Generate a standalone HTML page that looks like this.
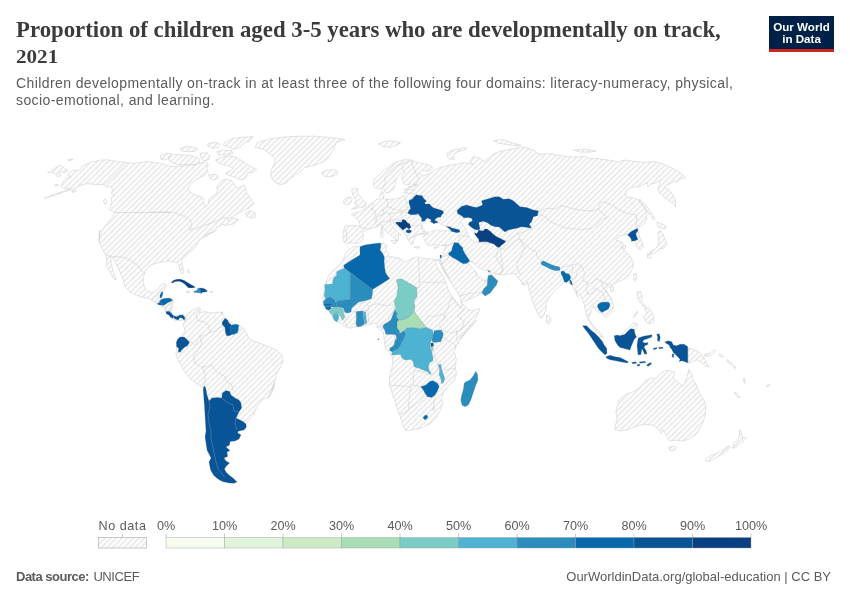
<!DOCTYPE html>
<html><head><meta charset="utf-8">
<style>
html,body{margin:0;padding:0;background:#fff;}
body{width:850px;height:600px;position:relative;overflow:hidden;font-family:"Liberation Sans",sans-serif;}
#title{position:absolute;left:16px;top:16.5px;font-family:"Liberation Serif",serif;font-weight:bold;font-size:22.8px;line-height:26.5px;color:#3b3b3b;white-space:nowrap;}
#t2{font-size:18.5px;display:inline-block;transform:scaleX(1.14);transform-origin:0 50%;}
#sub{position:absolute;left:16px;top:75px;font-size:14px;line-height:17.3px;color:#5b5b5b;white-space:nowrap;letter-spacing:0.4px;}
#logo{position:absolute;left:769px;top:16px;width:65px;height:36px;background:#002147;border-bottom:3px solid #ce261e;box-sizing:border-box;color:#fff;font-weight:bold;font-size:11.6px;line-height:12px;text-align:center;padding-top:4.7px;letter-spacing:0px;}
#src{position:absolute;left:16px;top:568.5px;font-size:13px;color:#5b5b5b;white-space:nowrap;letter-spacing:-0.5px;}
#un{margin-left:1.5px;letter-spacing:-0.4px;}
#url{position:absolute;right:19px;top:568.5px;font-size:13px;color:#5b5b5b;white-space:nowrap;}
svg{position:absolute;left:0;top:0;}
</style></head><body>
<div id="title"><span id="t1">Proportion of children aged 3-5 years who are developmentally on track,</span><br><span id="t2">2021</span></div>
<div id="sub"><span id="s1">Children developmentally on-track in at least three of the following four domains: literacy-numeracy, physical,</span><br><span id="s2">socio-emotional, and learning.</span></div>
<div id="logo">Our World<br>in Data</div>
<svg id="map" width="850" height="600" viewBox="0 0 850 600">
<defs>
<pattern id="hatch" patternUnits="userSpaceOnUse" width="4" height="4" patternTransform="rotate(-45 2 2)"><path d="M-1,2 l6,0" stroke="#e4e4e4" stroke-width="1.4"/></pattern>
</defs>
<!--MAP-->
<g id="mapg">
<path d="M44.2,198.3L55.0,195.0L65.0,191.7L70.8,189.7L76.7,187.5L81.7,185.0L86.7,183.7L92.5,184.2L98.3,184.7L104.2,185.0L106.7,187.5L110.0,186.3L112.5,189.2L111.7,193.3L114.2,195.0L111.3,197.5L111.7,202.5L110.3,206.7L108.3,209.2L111.7,210.8L114.7,212.5L112.5,216.7L108.3,221.7L103.3,228.3L100.0,235.0L99.2,241.7L100.0,230.0L98.7,236.7L99.7,243.3L102.5,250.0L105.8,255.0L106.7,259.2L106.3,265.8L109.2,270.8L111.7,275.8L115.0,280.0L116.3,279.2L114.2,274.2L112.5,269.2L111.7,264.2L110.8,259.2L110.3,256.7L113.3,258.0L115.8,263.3L120.0,271.7L123.3,279.2L125.0,286.7L130.0,291.7L135.8,295.0L142.5,297.5L148.3,298.0L152.5,300.8L156.7,303.3L161.7,305.3L165.8,308.3L167.5,312.5L170.0,315.8L172.5,319.2L176.7,320.8L182.5,320.3L185.0,318.7L185.8,320.8L186.3,318.0L185.0,315.8L183.3,314.7L180.0,314.7L176.7,315.8L173.3,316.7L170.8,313.3L170.3,308.3L171.7,303.3L173.0,299.7L170.8,298.0L165.0,298.3L160.0,300.0L161.7,296.7L162.5,292.5L164.2,289.2L166.7,285.0L165.0,283.3L160.8,285.0L158.3,289.2L153.3,292.5L148.3,291.7L145.0,288.3L143.3,283.3L143.3,278.3L144.7,272.5L148.3,267.5L153.3,264.2L159.2,262.5L165.0,261.7L168.3,260.8L173.3,261.7L177.5,262.5L179.2,265.8L180.0,270.8L181.7,273.7L183.3,272.5L183.0,267.5L181.7,263.3L181.3,260.0L184.2,256.7L188.3,253.3L193.3,249.2L196.7,245.8L198.3,241.7L201.7,238.3L205.8,235.0L211.7,232.5L216.7,230.0L203.8,237.5L208.8,233.8L212.5,230.0L217.5,227.5L222.5,224.5L226.2,225.5L233.8,223.8L238.8,219.5L233.8,218.0L230.0,218.0L235.0,215.0L242.5,211.2L245.0,210.0L250.0,207.5L253.8,203.8L251.2,198.8L246.2,192.5L244.5,185.0L244.7,185.0L240.8,186.7L236.7,188.3L235.0,185.0L231.7,180.8L226.7,179.2L222.5,180.0L219.2,183.3L216.7,187.5L217.5,190.8L215.8,194.2L210.8,196.7L208.7,199.2L208.3,204.2L205.8,205.8L203.0,203.3L204.2,199.2L201.7,197.0L195.8,195.0L190.0,192.5L188.0,188.3L190.0,185.0L195.0,180.8L200.0,177.5L205.0,175.0L208.3,172.5L206.7,168.3L208.3,164.2L205.0,161.7L200.0,163.3L191.7,165.0L183.3,165.8L175.0,166.7L168.3,165.8L163.3,164.2L156.7,162.5L146.7,161.7L140.0,162.5L133.3,163.3L127.5,162.5L120.0,161.7L113.3,160.8L107.5,159.7L100.0,160.3L92.5,161.7L85.8,164.2L81.7,166.7L80.0,170.0L75.0,170.0L70.0,171.7L67.5,175.0L70.8,176.7L65.8,178.3L62.5,182.5L60.8,185.8L63.3,188.3L70.0,188.7Z" fill="url(#hatch)" stroke="#c8c8c8" stroke-width="0.5" stroke-linejoin="round"/>
<path d="M47.5,173.0L53.3,169.2L60.0,165.0L62.5,166.7L65.8,169.2L68.0,170.8L65.8,172.5L61.7,171.7L59.2,173.3L60.8,175.8L57.5,176.7L55.0,173.3L51.7,172.5Z" fill="url(#hatch)" stroke="#c8c8c8" stroke-width="0.5" stroke-linejoin="round"/>
<path d="M67.5,159.7L72.5,159.0L73.0,160.0L68.3,160.7Z" fill="url(#hatch)" stroke="#c8c8c8" stroke-width="0.5" stroke-linejoin="round"/>
<path d="M55.0,184.7L58.3,184.7L58.3,185.7L55.0,185.7Z" fill="url(#hatch)" stroke="#c8c8c8" stroke-width="0.5" stroke-linejoin="round"/>
<path d="M71.7,190.8L75.8,189.7L76.3,191.3L72.5,192.5Z" fill="url(#hatch)" stroke="#c8c8c8" stroke-width="0.5" stroke-linejoin="round"/>
<path d="M103.3,200.0L105.8,199.2L107.0,202.5L104.7,204.2Z" fill="url(#hatch)" stroke="#c8c8c8" stroke-width="0.5" stroke-linejoin="round"/>
<path d="M245.0,213.3L250.0,210.8L255.0,212.5L255.8,216.7L251.7,218.3L247.5,216.7Z" fill="url(#hatch)" stroke="#c8c8c8" stroke-width="0.5" stroke-linejoin="round"/>
<path d="M215.8,160.0L221.7,157.5L228.3,155.8L235.0,156.7L240.8,160.0L246.7,164.2L253.3,167.5L256.7,170.0L252.5,172.5L247.5,172.5L246.7,176.7L243.3,180.0L238.3,179.2L233.3,176.7L228.3,175.0L225.0,173.3L230.0,170.8L233.3,168.3L228.3,165.8L223.3,165.0L218.3,163.3Z" fill="url(#hatch)" stroke="#c8c8c8" stroke-width="0.5" stroke-linejoin="round"/>
<path d="M168.3,156.7L175.0,154.2L183.3,155.0L191.7,155.8L198.3,158.3L200.0,162.5L195.0,165.0L188.3,164.2L180.0,165.0L173.3,163.3L169.2,160.8Z" fill="url(#hatch)" stroke="#c8c8c8" stroke-width="0.5" stroke-linejoin="round"/>
<path d="M160.0,155.8L165.8,153.3L171.7,153.7L170.0,157.5L165.0,160.0L160.8,159.2Z" fill="url(#hatch)" stroke="#c8c8c8" stroke-width="0.5" stroke-linejoin="round"/>
<path d="M225.0,141.7L233.3,138.3L243.3,137.0L253.3,136.7L250.0,140.8L243.3,143.3L240.0,147.5L233.3,149.2L228.3,146.7L223.3,145.0Z" fill="url(#hatch)" stroke="#c8c8c8" stroke-width="0.5" stroke-linejoin="round"/>
<path d="M216.7,151.7L223.3,150.0L231.7,150.8L233.3,153.3L226.7,155.0L218.3,154.7Z" fill="url(#hatch)" stroke="#c8c8c8" stroke-width="0.5" stroke-linejoin="round"/>
<path d="M180.0,148.3L186.7,146.3L193.3,147.0L198.3,149.2L195.0,151.7L188.3,151.3L182.5,151.7Z" fill="url(#hatch)" stroke="#c8c8c8" stroke-width="0.5" stroke-linejoin="round"/>
<path d="M208.3,143.3L215.0,142.5L220.0,144.2L218.3,147.5L211.7,148.3L207.5,145.8Z" fill="url(#hatch)" stroke="#c8c8c8" stroke-width="0.5" stroke-linejoin="round"/>
<path d="M200.0,153.3L206.7,152.5L210.0,155.8L208.3,160.0L203.3,160.8L200.8,157.5Z" fill="url(#hatch)" stroke="#c8c8c8" stroke-width="0.5" stroke-linejoin="round"/>
<path d="M208.3,175.0L215.0,174.2L218.3,176.7L215.8,180.0L210.8,179.2Z" fill="url(#hatch)" stroke="#c8c8c8" stroke-width="0.5" stroke-linejoin="round"/>
<path d="M257.5,142.5L270.0,138.8L285.0,137.0L300.0,136.2L315.0,136.2L330.0,137.5L345.0,139.5L336.2,142.5L333.8,148.8L330.0,155.0L325.0,161.2L315.0,165.0L305.0,167.5L297.5,173.8L290.0,178.8L285.0,183.8L280.0,184.5L275.0,182.5L271.2,177.5L270.5,171.2L273.8,165.0L275.0,158.8L270.0,153.8L262.5,148.8L255.0,147.5Z" fill="url(#hatch)" stroke="#c8c8c8" stroke-width="0.5" stroke-linejoin="round"/>
<path d="M321.2,172.5L326.2,170.5L333.8,169.5L338.0,172.0L336.2,175.0L330.0,177.0L323.8,176.2Z" fill="url(#hatch)" stroke="#c8c8c8" stroke-width="0.5" stroke-linejoin="round"/>
<path d="M185.0,319.2L187.5,314.2L192.5,310.0L198.3,307.5L200.8,309.2L199.2,312.5L205.0,311.7L211.7,313.0L217.5,312.0L222.5,312.5L223.3,315.8L225.8,318.3L230.0,321.7L235.0,324.2L239.2,325.0L243.3,328.3L246.7,333.3L248.3,337.5L253.3,340.8L260.0,343.3L268.3,346.7L276.7,350.0L281.7,355.0L283.3,360.8L280.8,366.7L276.7,373.3L275.0,380.0L274.2,386.7L271.7,393.3L268.3,398.3L274.0,383.0L272.0,391.0L268.0,397.0L262.0,400.0L258.0,405.0L255.0,411.0L253.0,416.0L249.0,420.0L246.0,424.0L230.0,435.0L210.0,415.0L203.7,387.5L198.3,385.0L191.7,380.0L186.7,375.0L183.3,369.2L180.0,363.3L176.7,357.5L175.8,353.3L177.5,352.5L176.3,348.3L176.7,343.3L180.8,337.5L185.0,330.8L183.3,325.0Z" fill="url(#hatch)" stroke="#c8c8c8" stroke-width="0.5" stroke-linejoin="round"/>
<path d="M324.2,288.5L327.4,277.9L332.7,270.5L339.1,265.2L343.3,259.9L345.4,253.6L350.7,248.3L354.9,246.2L359.2,246.8L368.7,244.5L381.4,243.6L383.5,243.0L386.7,245.1L385.7,250.4L388.8,253.6L387.8,256.8L393.1,256.8L400.5,258.9L405.8,262.1L411.1,258.9L417.4,256.8L423.8,258.5L430.1,258.9L437.5,259.9L440.7,258.9L441.8,264.2L444.9,270.5L449.2,277.9L452.4,286.4L455.5,292.8L457.7,298.1L460.8,302.3L465.1,306.5L468.2,309.7L472.5,310.8L479.9,308.7L478.8,311.8L475.7,318.2L470.4,325.6L464.0,333.0L459.8,339.4L476.5,320.0L472.2,325.3L465.9,332.7L460.6,339.1L456.4,345.4L454.2,351.8L456.4,359.2L455.3,365.5L456.4,374.0L454.2,380.4L448.9,385.7L443.7,392.0L441.5,398.4L442.6,403.7L440.5,410.0L436.2,417.4L429.9,423.8L421.4,428.0L411.9,430.1L405.5,430.5L403.4,426.9L401.3,419.5L398.1,411.1L394.9,401.5L391.8,392.0L389.2,383.5L389.6,376.1L391.8,368.7L392.8,362.4L391.8,356.0L389.6,351.8L385.4,348.6L384.4,341.2L383.3,332.7L375.9,326.4L385.7,328.8L383.5,324.5L381.4,326.7L375.1,323.5L368.7,324.5L362.4,326.2L356.0,326.7L349.6,328.3L344.4,326.7L341.2,323.5L336.9,321.4L332.7,318.2L330.6,313.9L327.4,309.7L324.2,306.5L322.5,301.2L323.2,297.0Z" fill="url(#hatch)" stroke="#c8c8c8" stroke-width="0.5" stroke-linejoin="round"/>
<path d="M347.4,243.6L343.8,241.8L342.8,235.4L343.8,229.9L344.7,226.2L352.0,225.3L360.3,226.2L358.4,220.7L354.8,217.0L351.1,214.3L357.5,212.4L362.1,210.6L365.8,207.9L369.4,205.1L373.1,202.4L375.8,199.6L379.5,198.7L380.4,194.1L382.3,191.3L384.1,195.0L383.2,198.7L388.7,199.6L395.1,198.7L399.7,197.8L404.3,195.9L406.1,193.2L405.2,189.5L407.9,187.7L410.7,186.8L414.4,185.8L417.1,184.9L410.7,184.0L406.1,184.9L403.4,183.1L401.9,178.5L402.4,175.0L405.0,172.5L403.4,170.8L400.8,173.7L398.4,175.8L396.0,179.4L395.1,184.9L393.3,189.5L389.6,192.3L385.9,193.2L384.1,189.5L380.4,188.6L374.9,187.7L373.1,184.0L374.0,179.4L378.6,174.8L384.1,170.3L390.5,165.7L396.0,162.0L403.4,159.8L410.7,159.8L416.2,162.0L423.5,163.8L430.9,165.7L432.7,168.4L429.0,171.2L421.7,170.3L418.9,173.0L423.5,175.8L429.0,173.9L434.5,170.3L440.0,167.5L447.4,165.7L458.4,163.8L465.7,162.9L473.0,163.8L470.0,161.8L473.2,156.5L478.5,157.5L484.8,161.8L491.2,155.4L497.5,152.2L506.0,150.1L514.5,148.6L520.8,146.9L527.2,148.0L533.5,150.1L537.8,153.3L542.0,154.4L550.5,153.7L558.9,155.4L567.4,156.5L575.9,157.1L585.4,156.5L588.6,158.6L597.1,158.6L605.5,159.6L618.2,161.8L624.0,160.0L636.0,161.6L646.0,162.4L654.0,161.6L660.0,163.0L668.0,166.0L676.0,170.0L682.0,174.0L685.6,178.0L680.0,179.0L677.0,182.0L674.0,181.0L670.0,184.0L666.0,185.0L664.0,187.0L669.0,190.0L673.0,195.0L675.6,200.0L675.6,207.0L673.0,204.0L668.0,200.0L663.0,196.0L659.0,192.0L658.0,188.0L660.0,185.0L659.0,180.0L656.0,183.0L651.0,184.0L648.0,187.0L647.0,183.0L643.0,185.0L638.0,187.0L632.0,187.0L627.0,190.0L625.0,195.0L628.0,197.0L633.0,198.0L638.0,200.0L642.0,204.0L645.0,209.0L647.0,215.0L646.4,220.0L644.0,224.0L639.0,227.0L637.4,228.2L639.0,234.0L640.0,238.0L642.4,243.0L643.0,247.0L641.0,249.6L638.0,249.0L636.0,245.0L635.0,241.0L633.0,239.0L630.0,238.0L628.0,234.0L624.0,235.0L620.0,236.0L617.0,238.0L615.6,240.0L619.0,241.0L622.0,242.0L623.6,244.0L621.0,246.0L626.0,245.4L624.4,249.0L621.4,246.6L625.7,251.9L629.9,256.2L633.1,261.5L633.1,266.8L630.9,272.1L627.8,276.3L623.5,279.5L617.2,282.0L611.9,284.8L609.8,287.9L607.6,285.4L605.5,289.0L607.6,293.2L610.8,298.5L613.4,304.9L612.9,310.2L609.8,314.4L605.5,317.6L603.4,314.4L599.2,312.3L594.9,309.1L593.5,305.9L591.8,309.1L589.6,315.5L588.6,318.7L591.8,323.9L596.0,328.2L600.2,332.4L603.4,337.7L601.3,337.1L597.1,332.0L592.8,326.5L589.2,321.8L587.1,316.5L585.4,310.2L584.4,304.9L582.2,298.5L579.1,294.3L575.9,290.1L578.2,298.1L576.1,293.8L574.0,288.5L571.5,285.4L567.7,282.2L565.5,279.6L563.4,283.2L559.2,286.4L553.9,291.7L548.6,298.1L546.5,303.4L546.1,308.7L544.4,315.0L541.2,318.2L538.0,313.9L534.8,307.6L532.7,301.2L530.6,294.9L528.5,287.5L527.4,282.2L525.3,285.4L521.1,284.3L523.2,283.2L520.0,280.1L516.8,276.9L514.7,273.3L509.4,274.1L502.0,274.8L495.7,273.7L491.4,272.6L488.2,270.5L484.0,272.6L479.8,270.5L475.5,266.3L472.4,262.1L469.8,261.0L471.3,263.1L473.4,267.4L475.5,272.6L477.0,275.8L478.3,272.6L479.8,275.8L482.9,276.9L486.1,274.8L488.9,271.6L491.4,274.8L494.6,277.9L497.8,281.1L496.1,285.4L493.5,288.5L490.4,292.8L485.1,295.9L481.9,293.2L474.5,297.0L467.1,300.2L461.8,302.3L457.5,297.0L454.4,290.7L451.2,284.3L446.9,275.8L442.7,267.4L439.5,258.9L440.6,257.9L441.8,256.2L442.9,253.2L444.1,250.3L445.3,247.4L446.5,244.4L443.5,245.0L440.0,245.6L435.3,244.4L431.8,245.6L427.6,245.0L425.9,243.2L424.7,240.3L423.5,237.4L424.1,234.4L422.9,233.2L420.0,233.8L416.5,234.4L414.7,236.2L415.3,238.5L412.9,240.3L413.5,243.2L411.8,245.0L410.0,242.6L408.2,239.7L406.5,236.8L405.3,233.8L402.9,231.5L398.8,228.5L395.3,225.0L392.4,222.6L389.4,221.5L390.8,224.4L394.1,227.9L397.6,231.5L401.2,235.0L400.0,234.4L398.2,235.4L398.8,237.9L397.6,240.9L395.9,239.1L392.9,237.4L389.4,234.4L386.5,231.5L383.5,227.9L381.8,224.4L379.4,225.6L375.3,227.4L370.6,228.5L365.9,230.3L362.4,232.6L363.9,237.2L361.2,241.8L355.7,243.6L350.2,242.7Z" fill="url(#hatch)" stroke="#c8c8c8" stroke-width="0.5" stroke-linejoin="round"/>
<path d="M380.6,230.3L382.6,229.9L383.2,234.4L382.4,237.4L380.8,236.8Z" fill="url(#hatch)" stroke="#c8c8c8" stroke-width="0.5" stroke-linejoin="round"/>
<path d="M381.2,226.8L382.4,226.5L382.7,229.5L381.5,229.7Z" fill="url(#hatch)" stroke="#c8c8c8" stroke-width="0.5" stroke-linejoin="round"/>
<path d="M391.2,240.6L394.1,240.3L397.1,240.1L396.7,242.4L394.7,243.8L391.8,242.1Z" fill="url(#hatch)" stroke="#c8c8c8" stroke-width="0.5" stroke-linejoin="round"/>
<path d="M414.1,246.8L417.1,246.5L419.4,247.1L418.8,248.1L414.7,247.9Z" fill="url(#hatch)" stroke="#c8c8c8" stroke-width="0.5" stroke-linejoin="round"/>
<path d="M433.5,247.4L435.9,246.8L437.9,246.4L437.1,247.9L434.7,248.8Z" fill="url(#hatch)" stroke="#c8c8c8" stroke-width="0.5" stroke-linejoin="round"/>
<path d="M378.6,143.7L385.0,141.5L392.4,140.9L400.6,142.8L396.0,145.5L390.5,147.3L383.2,146.4Z" fill="url(#hatch)" stroke="#c8c8c8" stroke-width="0.5" stroke-linejoin="round"/>
<path d="M447.4,152.8L452.9,150.1L462.0,148.3L466.6,147.7L464.8,150.1L458.4,151.4L452.9,154.7L454.7,159.3L450.1,159.3L447.4,156.5Z" fill="url(#hatch)" stroke="#c8c8c8" stroke-width="0.5" stroke-linejoin="round"/>
<path d="M493.3,140.6L501.8,139.5L512.4,142.7L520.8,145.2L515.5,145.9L506.0,144.4L497.5,143.1Z" fill="url(#hatch)" stroke="#c8c8c8" stroke-width="0.5" stroke-linejoin="round"/>
<path d="M573.8,150.1L582.2,149.1L590.7,150.1L596.0,151.2L588.6,152.2L580.1,152.2Z" fill="url(#hatch)" stroke="#c8c8c8" stroke-width="0.5" stroke-linejoin="round"/>
<path d="M639.0,199.0L641.0,200.0L646.0,206.0L651.0,212.0L655.0,219.0L653.6,219.6L649.0,214.0L644.0,207.0L640.0,202.0Z" fill="url(#hatch)" stroke="#c8c8c8" stroke-width="0.5" stroke-linejoin="round"/>
<path d="M657.0,222.0L662.0,224.0L666.0,226.0L665.0,229.0L661.0,228.0L658.0,227.0Z" fill="url(#hatch)" stroke="#c8c8c8" stroke-width="0.5" stroke-linejoin="round"/>
<path d="M660.0,230.0L663.0,234.0L665.0,240.0L667.0,244.0L664.0,248.0L660.0,249.0L656.0,252.0L652.0,254.0L649.0,253.0L651.0,251.0L655.0,249.0L658.0,246.0L659.0,241.0L658.0,236.0L658.4,232.0Z" fill="url(#hatch)" stroke="#c8c8c8" stroke-width="0.5" stroke-linejoin="round"/>
<path d="M647.2,253.6L651.0,255.2L650.4,258.4L647.6,257.6Z" fill="url(#hatch)" stroke="#c8c8c8" stroke-width="0.5" stroke-linejoin="round"/>
<path d="M610.4,287.9L612.9,286.9L614.0,290.1L611.2,291.8Z" fill="url(#hatch)" stroke="#c8c8c8" stroke-width="0.5" stroke-linejoin="round"/>
<path d="M634.1,274.2L636.2,273.1L636.7,278.4L634.5,281.6L633.5,278.4Z" fill="url(#hatch)" stroke="#c8c8c8" stroke-width="0.5" stroke-linejoin="round"/>
<path d="M636.7,292.2L640.5,291.1L642.2,296.4L641.5,301.7L644.7,304.9L646.8,308.1L643.7,307.0L640.1,302.8L637.9,298.5Z" fill="url(#hatch)" stroke="#c8c8c8" stroke-width="0.5" stroke-linejoin="round"/>
<path d="M644.7,309.1L648.9,308.1L653.2,314.4L653.6,321.8L650.0,323.9L645.8,321.8L643.7,316.5L646.8,313.4Z" fill="url(#hatch)" stroke="#c8c8c8" stroke-width="0.5" stroke-linejoin="round"/>
<path d="M633.1,316.5L637.3,311.2L637.9,312.3L634.1,317.6Z" fill="url(#hatch)" stroke="#c8c8c8" stroke-width="0.5" stroke-linejoin="round"/>
<path d="M546.5,315.0L549.7,316.1L551.1,320.3L549.0,324.1L546.5,322.4Z" fill="url(#hatch)" stroke="#c8c8c8" stroke-width="0.5" stroke-linejoin="round"/>
<path d="M614.8,429.5L616.9,418.9L615.9,410.5L619.1,399.9L625.4,394.6L633.9,391.4L641.3,386.1L645.5,380.8L651.9,377.6L656.1,378.7L660.4,373.4L665.7,370.2L672.0,371.3L675.2,372.4L673.1,377.6L678.4,382.9L683.7,386.1L686.8,377.6L688.9,369.2L691.1,372.4L693.2,379.8L696.4,385.1L699.5,393.5L703.8,399.9L705.9,407.3L704.8,416.8L701.7,425.3L696.4,433.8L688.9,439.1L682.6,441.2L676.2,440.1L669.9,441.2L665.7,434.8L662.5,429.5L661.4,433.8L658.2,428.5L652.9,425.3L644.5,424.2L636.0,426.4L627.5,429.5L621.2,431.2Z" fill="url(#hatch)" stroke="#c8c8c8" stroke-width="0.5" stroke-linejoin="round"/>
<path d="M668.8,447.1L673.1,446.1L675.8,447.5L674.1,450.7L669.9,450.7Z" fill="url(#hatch)" stroke="#c8c8c8" stroke-width="0.5" stroke-linejoin="round"/>
<path d="M687.9,348.0L693.2,349.1L699.5,352.2L703.8,357.5L705.9,361.8L709.1,367.1L704.8,365.6L700.6,361.8L696.4,359.6L693.2,361.8L687.9,362.8Z" fill="url(#hatch)" stroke="#c8c8c8" stroke-width="0.5" stroke-linejoin="round"/>
<path d="M703.8,354.4L710.1,353.3L714.4,349.1L715.4,351.2L711.2,355.4L704.8,356.5Z" fill="url(#hatch)" stroke="#c8c8c8" stroke-width="0.5" stroke-linejoin="round"/>
<path d="M719.7,353.7L723.3,356.3L722.2,357.5L719.0,355.0Z" fill="url(#hatch)" stroke="#c8c8c8" stroke-width="0.5" stroke-linejoin="round"/>
<path d="M727.1,359.6L732.4,363.9L731.3,365.2L726.4,360.9Z" fill="url(#hatch)" stroke="#c8c8c8" stroke-width="0.5" stroke-linejoin="round"/>
<path d="M733.4,364.9L736.0,367.7L734.9,368.5L732.8,366.0Z" fill="url(#hatch)" stroke="#c8c8c8" stroke-width="0.5" stroke-linejoin="round"/>
<path d="M743.4,378.7L744.4,378.5L745.3,382.9L744.2,383.2Z" fill="url(#hatch)" stroke="#c8c8c8" stroke-width="0.5" stroke-linejoin="round"/>
<path d="M735.5,392.0L740.2,396.9L738.9,398.2L734.5,393.5Z" fill="url(#hatch)" stroke="#c8c8c8" stroke-width="0.5" stroke-linejoin="round"/>
<path d="M766.2,386.1L769.4,384.4L770.1,385.5L766.9,387.2Z" fill="url(#hatch)" stroke="#c8c8c8" stroke-width="0.5" stroke-linejoin="round"/>
<path d="M739.2,430.0L741.2,431.2L741.8,435.3L742.4,437.6L746.5,437.9L744.1,440.6L740.6,443.5L737.1,446.5L732.9,448.5L732.1,447.1L734.1,445.3L733.5,442.9L736.5,441.2L738.8,438.2L739.4,434.7Z" fill="url(#hatch)" stroke="#c8c8c8" stroke-width="0.5" stroke-linejoin="round"/>
<path d="M728.8,445.9L730.6,447.1L727.6,450.0L722.9,453.5L718.2,456.5L713.5,459.4L708.8,461.8L705.3,460.6L706.5,458.2L711.2,455.3L716.5,453.5L721.8,450.6L725.9,447.6Z" fill="url(#hatch)" stroke="#c8c8c8" stroke-width="0.5" stroke-linejoin="round"/>
<path d="M620.4,336.2L623.5,332.4L627.8,328.2L633.1,322.9L637.3,323.9L636.7,328.2L634.1,329.9L634.1,334.5L627.8,336.7Z" fill="url(#hatch)" stroke="#c8c8c8" stroke-width="0.5" stroke-linejoin="round"/>
<path d="M161.3,305.0L164.2,305.0L167.5,303.3L170.0,301.7L173.0,300.3L172.7,305.0L171.7,309.2L172.0,313.7L169.2,311.3L165.8,311.7L164.2,308.7Z" fill="url(#hatch)" stroke="#c8c8c8" stroke-width="0.5" stroke-linejoin="round"/>
<path d="M186.3,291.3L189.2,291.0L189.7,292.3L187.0,292.7Z" fill="url(#hatch)" stroke="#c8c8c8" stroke-width="0.5" stroke-linejoin="round"/>
<path d="M210.0,291.3L212.5,291.2L212.7,292.3L210.2,292.5Z" fill="url(#hatch)" stroke="#c8c8c8" stroke-width="0.5" stroke-linejoin="round"/>
<path d="M187.5,270.0L188.7,269.7L189.3,272.5L188.3,273.0Z" fill="url(#hatch)" stroke="#c8c8c8" stroke-width="0.5" stroke-linejoin="round"/>
<path d="M221.3,312.2L222.7,312.0L222.7,313.3L221.3,313.3Z" fill="url(#hatch)" stroke="#c8c8c8" stroke-width="0.5" stroke-linejoin="round"/>
<path d="M351.5,189.7L355.6,187.9L357.9,189.1L356.8,192.6L360.3,196.2L363.8,200.3L366.2,203.2L365.6,206.2L362.1,207.4L357.9,207.9L353.8,209.1L351.5,209.1L355.6,206.8L357.4,204.4L354.4,203.8L356.2,200.3L353.8,197.4L352.6,193.8Z" fill="url(#hatch)" stroke="#c8c8c8" stroke-width="0.5" stroke-linejoin="round"/>
<path d="M343.8,200.3L346.8,197.9L350.3,196.8L352.1,198.5L351.5,202.1L348.5,204.4L345.0,204.4L343.2,202.6Z" fill="url(#hatch)" stroke="#c8c8c8" stroke-width="0.5" stroke-linejoin="round"/>
<path d="M432.5,408.0L434.2,407.5L435.0,409.5L433.3,410.8L432.0,409.7Z" fill="url(#hatch)" stroke="#c8c8c8" stroke-width="0.5" stroke-linejoin="round"/>
<path d="M422.5,223.4L425.5,221.1L427.8,218.5L429.6,219.1L431.4,220.2L430.4,221.7L432.4,223.0L433.9,224.0L435.6,223.2L438.1,222.8L440.5,223.8L443.5,225.3L446.5,226.8L448.0,227.9L450.1,229.4L451.4,231.4L448.8,230.9L445.0,230.5L441.3,230.9L437.5,230.1L433.8,230.9L430.0,232.0L426.3,232.4L423.3,231.3L421.8,229.0L422.1,226.0Z" fill="#fff" stroke="#c8c8c8" stroke-width="0.5" stroke-linejoin="round"/>
<path d="M463.8,218.3L468.3,217.5L471.7,218.3L472.5,220.8L469.2,222.5L468.3,224.6L470.8,226.7L474.2,229.2L475.0,231.7L474.6,232.9L475.0,234.6L476.7,236.7L478.8,239.2L479.2,242.1L476.7,242.5L474.2,241.7L471.7,240.0L469.6,237.5L467.9,234.2L466.7,230.8L465.0,227.5L462.5,224.6L460.8,221.7L461.7,219.6Z" fill="#fff" stroke="#c8c8c8" stroke-width="0.5" stroke-linejoin="round"/>
<path d="M470.3,261.5L473.5,263.2L477.1,266.5L480.6,268.8L484.7,270.3L488.2,270.6L490.0,271.2L489.4,272.6L488.8,273.5L488.2,276.5L487.4,279.4L485.9,280.6L483.5,280.3L481.2,279.4L479.4,277.6L477.6,275.3L475.6,271.8L472.9,268.2L470.0,265.3L467.6,262.9L468.8,261.8Z" fill="#fff" stroke="#c8c8c8" stroke-width="0.5" stroke-linejoin="round"/>
<path d="M435.3,260.8L438.0,260.3L441.2,266.2L445.0,273.3L449.4,279.8L453.7,286.8L457.5,292.8L460.2,297.7L461.3,303.1L462.0,306.3L460.7,307.2L458.6,304.2L455.9,300.9L452.1,296.6L448.3,290.1L446.1,283.6L443.4,277.1L440.2,271.7L436.9,266.2Z" fill="#fff" stroke="#c8c8c8" stroke-width="0.5" stroke-linejoin="round"/>
<path d="M127.5,162.5L104.2,185.0" fill="none" stroke="#c8c8c8" stroke-width="0.5" stroke-linejoin="round"/>
<path d="M114.7,212.5L170.0,212.5" fill="none" stroke="#c8c8c8" stroke-width="0.5" stroke-linejoin="round"/>
<path d="M150.0,212.0L171.7,212.0L178.3,214.2L185.8,216.7L190.8,220.8L191.7,225.8L189.2,230.0L196.7,228.3L203.3,225.8L210.0,223.3L216.7,220.8L223.3,217.5L228.3,218.3L229.2,221.7" fill="none" stroke="#c8c8c8" stroke-width="0.5" stroke-linejoin="round"/>
<path d="M105.8,255.0L111.7,256.3L118.3,256.7L124.2,257.5L130.0,260.0L134.2,263.3L138.3,265.8L141.7,270.8L144.7,272.5" fill="none" stroke="#c8c8c8" stroke-width="0.5" stroke-linejoin="round"/>
<path d="M152.5,300.8L153.3,297.5L157.5,295.8L158.3,292.5L162.5,292.5" fill="none" stroke="#c8c8c8" stroke-width="0.5" stroke-linejoin="round"/>
<path d="M156.7,303.3L160.0,300.0" fill="none" stroke="#c8c8c8" stroke-width="0.5" stroke-linejoin="round"/>
<path d="M161.7,305.3L165.0,303.3L173.0,299.7" fill="none" stroke="#c8c8c8" stroke-width="0.5" stroke-linejoin="round"/>
<path d="M167.5,312.5L173.3,316.7" fill="none" stroke="#c8c8c8" stroke-width="0.5" stroke-linejoin="round"/>
<path d="M200.8,309.2L195.8,314.2L197.5,320.0L205.0,322.5L208.3,325.0L210.0,332.5" fill="none" stroke="#c8c8c8" stroke-width="0.5" stroke-linejoin="round"/>
<path d="M208.3,333.3L215.0,330.8L219.2,327.5L224.2,326.7L225.8,318.3" fill="none" stroke="#c8c8c8" stroke-width="0.5" stroke-linejoin="round"/>
<path d="M200.0,335.8L201.7,343.3L198.3,350.0L193.3,356.7L195.0,363.3L202.5,367.5L205.0,373.3L205.0,383.3L203.7,387.5" fill="none" stroke="#c8c8c8" stroke-width="0.5" stroke-linejoin="round"/>
<path d="M202.5,367.5L211.7,365.0L216.7,371.7L225.0,376.7L226.7,381.7L231.7,385.0L233.3,390.8" fill="none" stroke="#c8c8c8" stroke-width="0.5" stroke-linejoin="round"/>
<path d="M180.8,337.5L189.2,340.8L195.0,345.0L200.0,335.8L203.3,335.8L208.3,334.2" fill="none" stroke="#c8c8c8" stroke-width="0.5" stroke-linejoin="round"/>
<path d="M239.2,325.0L238.3,330.8L235.8,333.3" fill="none" stroke="#c8c8c8" stroke-width="0.5" stroke-linejoin="round"/>
<path d="M226.7,335.8L231.7,334.2L238.3,333.3L243.3,328.3" fill="none" stroke="#c8c8c8" stroke-width="0.5" stroke-linejoin="round"/>
<path d="M410.1,206.1L415.0,205.4L419.5,205.8L422.5,206.1L425.1,203.9" fill="none" stroke="#c8c8c8" stroke-width="0.5" stroke-linejoin="round"/>
<path d="M418.5,258.8L419.4,282.3" fill="none" stroke="#c8c8c8" stroke-width="0.5" stroke-linejoin="round"/>
<path d="M419.4,282.3L446.0,282.3" fill="none" stroke="#c8c8c8" stroke-width="0.5" stroke-linejoin="round"/>
<path d="M419.4,282.3L419.4,287.3L416.7,288.2" fill="none" stroke="#c8c8c8" stroke-width="0.5" stroke-linejoin="round"/>
<path d="M384.1,255.5L385.5,259.8L388.3,262.5" fill="none" stroke="#c8c8c8" stroke-width="0.5" stroke-linejoin="round"/>
<path d="M331.4,280.8L337.8,278.6L343.3,275.7" fill="none" stroke="#c8c8c8" stroke-width="0.5" stroke-linejoin="round"/>
<path d="M371.8,305.6L376.3,303.8L385.5,305.6L392.9,304.7L396.2,301.0" fill="none" stroke="#c8c8c8" stroke-width="0.5" stroke-linejoin="round"/>
<path d="M352.5,308.4L357.1,304.7L364.4,301.9L369.0,306.2L368.1,310.2L361.7,311.1L356.2,312.9L352.5,310.2" fill="none" stroke="#c8c8c8" stroke-width="0.5" stroke-linejoin="round"/>
<path d="M369.0,306.2L371.8,305.6" fill="none" stroke="#c8c8c8" stroke-width="0.5" stroke-linejoin="round"/>
<path d="M356.2,312.9L355.8,324.9" fill="none" stroke="#c8c8c8" stroke-width="0.5" stroke-linejoin="round"/>
<path d="M344.3,321.2L347.9,326.7" fill="none" stroke="#c8c8c8" stroke-width="0.5" stroke-linejoin="round"/>
<path d="M344.3,315.7L347.0,319.4L345.2,322.1" fill="none" stroke="#c8c8c8" stroke-width="0.5" stroke-linejoin="round"/>
<path d="M368.1,310.2L368.6,323.0" fill="none" stroke="#c8c8c8" stroke-width="0.5" stroke-linejoin="round"/>
<path d="M396.2,301.0L392.9,312.0L387.4,321.2L383.7,324.9" fill="none" stroke="#c8c8c8" stroke-width="0.5" stroke-linejoin="round"/>
<path d="M425.5,321.2L427.7,315.7L435.0,316.6L442.4,313.9L446.0,317.5L444.2,315.7" fill="none" stroke="#c8c8c8" stroke-width="0.5" stroke-linejoin="round"/>
<path d="M451.5,296.4L447.9,308.4L444.2,315.7L442.4,321.2L438.7,324.9L442.4,330.4" fill="none" stroke="#c8c8c8" stroke-width="0.5" stroke-linejoin="round"/>
<path d="M433.2,330.4L442.4,330.4L451.5,333.1L460.7,330.4L469.9,321.2" fill="none" stroke="#c8c8c8" stroke-width="0.5" stroke-linejoin="round"/>
<path d="M451.5,296.4L457.0,304.7L464.4,310.2" fill="none" stroke="#c8c8c8" stroke-width="0.5" stroke-linejoin="round"/>
<path d="M460.7,330.4L464.4,321.2L457.0,315.7L464.4,310.2" fill="none" stroke="#c8c8c8" stroke-width="0.5" stroke-linejoin="round"/>
<path d="M395.6,279.0L397.4,280.8" fill="none" stroke="#c8c8c8" stroke-width="0.5" stroke-linejoin="round"/>
<path d="M397.4,280.8L398.4,290.0L395.6,301.0" fill="none" stroke="#c8c8c8" stroke-width="0.5" stroke-linejoin="round"/>
<path d="M538.0,212.9L546.5,208.2L555.9,209.1L561.5,205.4L570.9,208.2L580.4,210.1L591.6,211.0L598.2,209.1L602.9,213.8L607.6,217.6L601.1,219.5L597.3,224.2L592.6,227.9L584.1,229.8L574.7,228.9L565.3,227.9L557.8,225.1L550.2,221.4L544.6,216.6L538.0,212.9" fill="none" stroke="#c8c8c8" stroke-width="0.5" stroke-linejoin="round"/>
<path d="M598.2,209.1L599.2,203.5L602.9,201.6L610.5,204.4L618.0,209.1L627.4,213.8L635.9,214.8L636.8,219.5L635.9,227.0" fill="none" stroke="#c8c8c8" stroke-width="0.5" stroke-linejoin="round"/>
<path d="M530.5,228.9L524.8,231.7L518.2,233.6L520.1,239.2" fill="none" stroke="#c8c8c8" stroke-width="0.5" stroke-linejoin="round"/>
<path d="M520.1,239.2L524.8,243.9L530.5,249.6L536.1,251.5L537.1,257.1L541.8,260.9" fill="none" stroke="#c8c8c8" stroke-width="0.5" stroke-linejoin="round"/>
<path d="M560.6,267.5L565.3,266.2L571.9,265.0L577.5,263.7L582.2,266.5L585.1,274.1L582.2,279.7L587.9,283.5L592.6,282.5L595.4,278.8L601.1,280.6L604.8,283.5L610.5,284.4L614.2,287.2" fill="none" stroke="#c8c8c8" stroke-width="0.5" stroke-linejoin="round"/>
<path d="M520.1,239.2L524.8,248.6L520.1,257.1L516.4,264.6L518.2,270.3L521.1,275.0" fill="none" stroke="#c8c8c8" stroke-width="0.5" stroke-linejoin="round"/>
<path d="M498.5,247.7L505.1,249.6L510.7,244.9L516.4,240.2L520.1,239.2" fill="none" stroke="#c8c8c8" stroke-width="0.5" stroke-linejoin="round"/>
<path d="M498.5,247.7L495.6,257.1L499.4,262.8L503.2,270.3L501.3,273.1" fill="none" stroke="#c8c8c8" stroke-width="0.5" stroke-linejoin="round"/>
<path d="M504.1,241.1L508.8,240.2L514.5,235.5L518.2,233.6" fill="none" stroke="#c8c8c8" stroke-width="0.5" stroke-linejoin="round"/>
<path d="M587.9,283.5L586.0,289.1L588.8,294.8L592.6,292.9L595.4,288.2L602.9,292.9L604.8,299.5L608.6,302.3" fill="none" stroke="#c8c8c8" stroke-width="0.5" stroke-linejoin="round"/>
<path d="M571.9,265.0L572.8,272.2L569.1,274.1L572.8,280.6L575.6,277.8L577.5,270.3L582.2,266.5" fill="none" stroke="#c8c8c8" stroke-width="0.5" stroke-linejoin="round"/>
<path d="M635.9,240.2L639.6,239.8" fill="none" stroke="#c8c8c8" stroke-width="0.5" stroke-linejoin="round"/>
<path d="M601.1,280.6L602.9,287.2L608.6,294.8L612.4,300.4" fill="none" stroke="#c8c8c8" stroke-width="0.5" stroke-linejoin="round"/>
<path d="M441.5,246.2L448.5,245.0L454.4,243.0" fill="none" stroke="#c8c8c8" stroke-width="0.5" stroke-linejoin="round"/>
<path d="M449.1,255.0L451.5,250.9" fill="none" stroke="#c8c8c8" stroke-width="0.5" stroke-linejoin="round"/>
<path d="M440.9,264.4L446.2,261.5L448.5,257.9L449.1,255.0" fill="none" stroke="#c8c8c8" stroke-width="0.5" stroke-linejoin="round"/>
<path d="M440.3,256.8L444.4,256.2L449.1,255.0" fill="none" stroke="#c8c8c8" stroke-width="0.5" stroke-linejoin="round"/>
<path d="M449.1,255.0L456.8,259.7L463.2,263.8" fill="none" stroke="#c8c8c8" stroke-width="0.5" stroke-linejoin="round"/>
<path d="M463.2,263.8L467.9,263.2L469.7,262.1" fill="none" stroke="#c8c8c8" stroke-width="0.5" stroke-linejoin="round"/>
<path d="M479.7,242.3L486.2,243.8L495.6,242.1L500.3,247.4" fill="none" stroke="#c8c8c8" stroke-width="0.5" stroke-linejoin="round"/>
<path d="M500.3,247.4L501.5,258.5L503.2,269.1L500.3,273.8L495.6,275.0" fill="none" stroke="#c8c8c8" stroke-width="0.5" stroke-linejoin="round"/>
<path d="M460.3,296.2L467.4,293.8L474.4,293.2L481.5,291.5" fill="none" stroke="#c8c8c8" stroke-width="0.5" stroke-linejoin="round"/>
<path d="M481.5,291.5L487.9,284.4" fill="none" stroke="#c8c8c8" stroke-width="0.5" stroke-linejoin="round"/>
<path d="M480.3,276.2L483.8,279.1L487.9,284.4" fill="none" stroke="#c8c8c8" stroke-width="0.5" stroke-linejoin="round"/>
<path d="M458.5,243.0L459.1,238.5L460.3,235.0" fill="none" stroke="#c8c8c8" stroke-width="0.5" stroke-linejoin="round"/>
<path d="M460.3,235.0L465.0,236.2L469.1,236.2" fill="none" stroke="#c8c8c8" stroke-width="0.5" stroke-linejoin="round"/>
<path d="M346.2,230.3L346.8,236.2L345.6,242.1" fill="none" stroke="#c8c8c8" stroke-width="0.5" stroke-linejoin="round"/>
<path d="M360.3,227.4L367.4,228.5" fill="none" stroke="#c8c8c8" stroke-width="0.5" stroke-linejoin="round"/>
<path d="M368.5,206.8L371.5,209.1L375.0,210.9L375.6,213.8L374.4,217.4L376.2,220.3L375.6,223.2L376.8,226.2" fill="none" stroke="#c8c8c8" stroke-width="0.5" stroke-linejoin="round"/>
<path d="M373.2,203.2L372.6,206.8L371.5,209.1" fill="none" stroke="#c8c8c8" stroke-width="0.5" stroke-linejoin="round"/>
<path d="M386.8,198.5L387.4,203.2L387.9,206.8" fill="none" stroke="#c8c8c8" stroke-width="0.5" stroke-linejoin="round"/>
<path d="M376.2,220.3L377.4,216.2L382.1,215.0L384.4,211.5L382.1,210.3L384.4,209.1L387.9,206.8" fill="none" stroke="#c8c8c8" stroke-width="0.5" stroke-linejoin="round"/>
<path d="M382.1,215.0L385.6,212.6L390.3,213.8L390.3,220.3" fill="none" stroke="#c8c8c8" stroke-width="0.5" stroke-linejoin="round"/>
<path d="M402.6,195.6L405.6,198.5L406.8,204.4L407.9,209.1" fill="none" stroke="#c8c8c8" stroke-width="0.5" stroke-linejoin="round"/>
<path d="M387.9,206.8L393.8,209.1L400.9,210.3L407.9,209.7" fill="none" stroke="#c8c8c8" stroke-width="0.5" stroke-linejoin="round"/>
<path d="M390.3,213.8L396.2,213.2L400.9,211.5L407.9,212.6" fill="none" stroke="#c8c8c8" stroke-width="0.5" stroke-linejoin="round"/>
<path d="M400.9,211.5L402.1,216.2L398.5,219.7" fill="none" stroke="#c8c8c8" stroke-width="0.5" stroke-linejoin="round"/>
<path d="M407.9,212.6L415.0,213.8L419.7,215.0" fill="none" stroke="#c8c8c8" stroke-width="0.5" stroke-linejoin="round"/>
<path d="M405.6,226.8L411.5,225.6L417.4,226.2L420.9,224.4" fill="none" stroke="#c8c8c8" stroke-width="0.5" stroke-linejoin="round"/>
<path d="M376.8,226.2L380.9,222.1L386.8,221.5L390.3,220.3" fill="none" stroke="#c8c8c8" stroke-width="0.5" stroke-linejoin="round"/>
<path d="M390.3,220.3L393.8,219.7L398.5,219.7L400.9,221.5" fill="none" stroke="#c8c8c8" stroke-width="0.5" stroke-linejoin="round"/>
<path d="M403.8,192.6L410.3,193.2L415.0,193.8" fill="none" stroke="#c8c8c8" stroke-width="0.5" stroke-linejoin="round"/>
<path d="M403.2,189.7L410.3,189.7L415.0,190.3" fill="none" stroke="#c8c8c8" stroke-width="0.5" stroke-linejoin="round"/>
<path d="M407.9,186.8L413.8,186.8L415.0,182.1" fill="none" stroke="#c8c8c8" stroke-width="0.5" stroke-linejoin="round"/>
<path d="M407.4,238.5L411.5,237.4L417.4,235.0L424.4,233.8L429.1,234.4" fill="none" stroke="#c8c8c8" stroke-width="0.5" stroke-linejoin="round"/>
<path d="M419.7,215.0L417.4,210.3" fill="none" stroke="#c8c8c8" stroke-width="0.5" stroke-linejoin="round"/>
<path d="M420.9,224.4L424.4,230.3L424.4,233.8" fill="none" stroke="#c8c8c8" stroke-width="0.5" stroke-linejoin="round"/>
<path d="M383.3,187.5L385.4,183.3L384.6,178.3L386.7,175.0L390.8,170.8L395.0,166.7L397.5,165.0L400.8,164.2" fill="none" stroke="#c8c8c8" stroke-width="0.5" stroke-linejoin="round"/>
<path d="M400.8,164.2L402.5,166.7L403.3,170.4" fill="none" stroke="#c8c8c8" stroke-width="0.5" stroke-linejoin="round"/>
<path d="M400.8,164.2L405.0,162.5L409.2,162.1L411.7,160.8" fill="none" stroke="#c8c8c8" stroke-width="0.5" stroke-linejoin="round"/>
<path d="M411.7,160.8L412.5,165.0L415.0,170.8L416.7,175.0L419.2,178.3L416.7,183.3L415.0,185.8" fill="none" stroke="#c8c8c8" stroke-width="0.5" stroke-linejoin="round"/>
<path d="M389.2,385.0L400.0,385.8L410.8,386.7L413.3,385.0L420.8,386.7" fill="none" stroke="#c8c8c8" stroke-width="0.5" stroke-linejoin="round"/>
<path d="M410.8,386.7L409.2,398.3L408.3,410.0L400.0,415.0" fill="none" stroke="#c8c8c8" stroke-width="0.5" stroke-linejoin="round"/>
<path d="M409.2,408.3L414.2,405.0L420.0,401.7L425.0,395.8L427.5,396.7" fill="none" stroke="#c8c8c8" stroke-width="0.5" stroke-linejoin="round"/>
<path d="M413.3,373.3L415.8,370.0L423.3,371.7L430.0,375.0L435.0,373.3L437.5,370.0L438.3,365.0" fill="none" stroke="#c8c8c8" stroke-width="0.5" stroke-linejoin="round"/>
<path d="M413.3,373.3L413.3,385.0" fill="none" stroke="#c8c8c8" stroke-width="0.5" stroke-linejoin="round"/>
<path d="M437.5,383.3L443.3,383.3L444.2,376.7L441.7,370.0" fill="none" stroke="#c8c8c8" stroke-width="0.5" stroke-linejoin="round"/>
<path d="M435.0,395.8L434.2,401.7L433.3,407.5" fill="none" stroke="#c8c8c8" stroke-width="0.5" stroke-linejoin="round"/>
<path d="M444.2,370.0L455.0,368.3" fill="none" stroke="#c8c8c8" stroke-width="0.5" stroke-linejoin="round"/>
<path d="M442.5,337.5L453.3,343.3L456.7,346.7" fill="none" stroke="#c8c8c8" stroke-width="0.5" stroke-linejoin="round"/>
<path d="M433.3,350.0L435.0,358.3L438.3,364.7" fill="none" stroke="#c8c8c8" stroke-width="0.5" stroke-linejoin="round"/>
<path d="M456.7,330.0L456.7,340.0L459.2,344.2" fill="none" stroke="#c8c8c8" stroke-width="0.5" stroke-linejoin="round"/>
<path d="M385.8,334.2L394.2,334.2L395.0,340.8L392.5,346.7L389.7,348.3" fill="none" stroke="#c8c8c8" stroke-width="0.5" stroke-linejoin="round"/>
<path d="M391.7,355.0L400.8,354.2L401.7,357.5L405.0,360.0L410.8,359.2L413.3,361.7L414.2,366.7L419.2,368.3" fill="none" stroke="#c8c8c8" stroke-width="0.5" stroke-linejoin="round"/>
<path d="M360.0,246.7L365.0,245.0L373.3,243.7L380.8,243.0L380.8,246.7L380.0,250.0L382.5,253.3L384.2,256.7L384.2,261.7L384.7,268.3L385.8,273.3L389.7,278.7L372.5,289.5L344.2,268.0L343.8,265.3L351.7,260.0L360.0,255.0L360.0,251.7Z" fill="#0868ac" stroke="#4a6a86" stroke-opacity="0.55" stroke-width="0.4" stroke-linejoin="round"/>
<path d="M396.7,279.7L401.3,278.7L416.7,287.5L417.0,296.7L414.7,300.0L413.7,303.3L415.0,305.0L414.2,311.3L409.2,316.7L405.0,319.2L400.0,320.0L397.5,320.8L396.3,316.7L397.0,313.3L394.7,310.3L395.8,306.7L394.7,303.3L394.2,300.8L396.7,296.7L398.3,286.7L396.7,281.7Z" fill="#7bccc4" stroke="#4a6a86" stroke-opacity="0.55" stroke-width="0.4" stroke-linejoin="round"/>
<path d="M394.7,310.3L397.0,313.3L396.3,316.7L398.3,319.7L397.0,323.3L397.0,327.5L399.2,330.8L400.0,333.3L394.2,334.2L385.8,334.2L385.0,330.8L382.8,326.7L384.2,324.2L387.5,322.5L390.8,320.0L392.5,315.8L393.7,312.5Z" fill="#2b8cbe" stroke="#4a6a86" stroke-opacity="0.55" stroke-width="0.4" stroke-linejoin="round"/>
<path d="M400.0,333.3L404.2,330.8L405.3,333.3L404.5,338.3L402.0,341.7L400.3,345.8L398.7,348.3L395.3,350.0L392.5,352.0L390.0,350.8L389.7,348.3L392.5,346.7L394.2,345.0L395.0,340.8L396.7,338.3L395.8,335.0L394.2,334.2Z" fill="#2b8cbe" stroke="#4a6a86" stroke-opacity="0.55" stroke-width="0.4" stroke-linejoin="round"/>
<path d="M404.2,330.8L406.7,328.0L413.3,327.5L420.0,328.7L426.7,327.5L432.5,330.0L433.3,335.0L431.7,339.2L430.0,343.3L430.3,348.3L431.7,351.7L433.0,358.3L432.5,361.3L429.7,362.5L428.3,366.7L429.2,370.8L431.2,373.3L430.0,374.2L427.5,371.7L423.3,370.0L419.2,368.3L414.2,366.7L413.3,361.7L410.8,359.2L405.0,360.0L401.7,357.5L400.8,354.2L391.7,355.0L392.5,352.0L395.3,350.0L398.7,348.3L400.3,345.8L402.0,341.7L404.5,338.3L405.3,333.3Z" fill="#4eb3d3" stroke="#4a6a86" stroke-opacity="0.55" stroke-width="0.4" stroke-linejoin="round"/>
<path d="M397.5,320.8L400.0,320.0L405.0,319.2L409.2,316.7L414.2,311.3L416.7,315.0L420.0,319.2L423.3,323.3L425.8,326.7L426.7,327.5L420.0,328.7L413.3,327.5L406.7,328.0L404.2,330.8L401.7,331.7L399.2,330.8L397.0,327.5L397.0,323.3Z" fill="#a8ddb5" stroke="#4a6a86" stroke-opacity="0.55" stroke-width="0.4" stroke-linejoin="round"/>
<path d="M434.2,330.8L440.8,330.0L443.3,333.3L442.5,337.5L440.8,341.7L433.3,342.5L431.7,340.0L433.0,335.8Z" fill="#2b8cbe" stroke="#4a6a86" stroke-opacity="0.55" stroke-width="0.4" stroke-linejoin="round"/>
<path d="M430.5,343.3L433.0,342.8L433.7,345.8L431.2,347.0Z" fill="#085496" stroke="#4a6a86" stroke-opacity="0.55" stroke-width="0.4" stroke-linejoin="round"/>
<path d="M431.2,347.5L433.3,346.7L433.0,350.0L431.3,351.3Z" fill="#a8ddb5" stroke="#4a6a86" stroke-opacity="0.55" stroke-width="0.4" stroke-linejoin="round"/>
<path d="M438.3,364.7L440.8,364.2L441.7,370.0L443.3,375.0L444.7,378.3L443.3,382.5L441.7,383.3L440.8,378.3L439.2,375.0L439.7,370.0Z" fill="#4eb3d3" stroke="#4a6a86" stroke-opacity="0.55" stroke-width="0.4" stroke-linejoin="round"/>
<path d="M420.8,386.7L425.8,385.0L430.0,381.3L433.3,380.8L437.5,383.3L439.2,386.7L437.5,390.8L435.0,395.0L431.7,397.5L427.5,396.7L425.0,393.3L423.3,390.0Z" fill="#0868ac" stroke="#4a6a86" stroke-opacity="0.55" stroke-width="0.4" stroke-linejoin="round"/>
<path d="M377.8,338.8L378.8,338.8L378.8,339.8L377.8,339.8Z" fill="#0868ac" stroke="#4a6a86" stroke-opacity="0.55" stroke-width="0.4" stroke-linejoin="round"/>
<path d="M475.8,371.3L477.5,374.2L478.0,380.0L475.8,385.0L473.3,392.5L470.8,400.0L468.3,405.0L465.0,406.7L462.0,405.0L460.8,400.0L461.7,395.0L463.3,390.0L464.2,383.3L465.8,381.7L470.0,380.0L473.3,375.8Z" fill="#2b8cbe" stroke="#4a6a86" stroke-opacity="0.55" stroke-width="0.4" stroke-linejoin="round"/>
<path d="M423.0,417.5L425.3,415.0L427.8,415.8L427.5,418.0L425.0,420.0Z" fill="#0868ac" stroke="#4a6a86" stroke-opacity="0.55" stroke-width="0.4" stroke-linejoin="round"/>
<path d="M440.0,255.0L441.2,255.0L441.3,258.0L440.2,258.0Z" fill="#085496" stroke="#4a6a86" stroke-opacity="0.55" stroke-width="0.4" stroke-linejoin="round"/>
<path d="M540.8,262.5L543.3,260.8L548.3,263.3L554.2,265.8L559.7,267.0L560.0,270.3L555.8,270.8L550.8,269.2L545.0,266.3L541.7,264.7Z" fill="#2b8cbe" stroke="#4a6a86" stroke-opacity="0.55" stroke-width="0.4" stroke-linejoin="round"/>
<path d="M560.8,271.7L563.3,270.8L565.8,273.3L569.2,274.2L570.8,277.5L570.0,279.2L571.7,281.7L572.5,285.0L570.8,284.2L569.2,280.0L566.7,282.5L564.2,281.7L563.0,277.5L561.3,274.2Z" fill="#0868ac" stroke="#4a6a86" stroke-opacity="0.55" stroke-width="0.4" stroke-linejoin="round"/>
<path d="M598.0,304.2L600.8,302.5L605.0,302.0L609.2,302.5L610.0,305.8L608.3,309.2L605.0,310.8L601.7,312.5L599.2,310.0L597.5,306.7Z" fill="#0868ac" stroke="#4a6a86" stroke-opacity="0.55" stroke-width="0.4" stroke-linejoin="round"/>
<path d="M627.5,235.0L630.8,231.7L634.2,230.0L637.5,228.3L638.0,230.8L635.8,233.3L636.7,236.7L638.0,239.2L635.0,240.8L631.7,241.3L630.8,238.3L629.2,236.3Z" fill="#085496" stroke="#4a6a86" stroke-opacity="0.55" stroke-width="0.4" stroke-linejoin="round"/>
<path d="M582.5,325.8L586.7,325.8L590.8,330.0L595.0,333.3L599.2,337.5L602.5,341.7L604.2,345.0L606.7,348.3L607.0,353.3L605.0,355.0L601.7,351.7L598.3,348.3L595.0,343.3L591.7,338.3L588.3,333.3L585.0,329.2Z" fill="#085496" stroke="#4a6a86" stroke-opacity="0.55" stroke-width="0.4" stroke-linejoin="round"/>
<path d="M605.8,356.7L610.0,355.3L615.0,356.7L620.0,357.5L625.0,360.0L628.3,361.7L627.5,363.0L621.7,362.0L615.8,360.8L610.0,359.7L606.7,358.3Z" fill="#085496" stroke="#4a6a86" stroke-opacity="0.55" stroke-width="0.4" stroke-linejoin="round"/>
<path d="M631.7,362.5L635.8,361.7L636.7,363.3L632.5,363.8Z" fill="#085496" stroke="#4a6a86" stroke-opacity="0.55" stroke-width="0.4" stroke-linejoin="round"/>
<path d="M637.5,364.2L640.0,364.2L639.2,366.3L637.2,365.8Z" fill="#085496" stroke="#4a6a86" stroke-opacity="0.55" stroke-width="0.4" stroke-linejoin="round"/>
<path d="M639.2,362.0L645.0,361.3L645.8,362.5L640.0,363.3Z" fill="#085496" stroke="#4a6a86" stroke-opacity="0.55" stroke-width="0.4" stroke-linejoin="round"/>
<path d="M647.5,364.2L650.8,362.5L651.7,363.7L648.3,366.3L646.7,365.8Z" fill="#085496" stroke="#4a6a86" stroke-opacity="0.55" stroke-width="0.4" stroke-linejoin="round"/>
<path d="M614.2,335.8L617.5,335.0L620.0,335.8L625.0,334.2L628.3,330.8L630.8,328.7L634.2,329.2L634.7,332.5L635.8,335.8L636.7,337.0L634.2,339.2L632.5,343.3L630.8,347.5L630.0,350.0L626.7,349.2L623.3,348.3L620.0,347.5L617.5,345.0L615.0,340.8Z" fill="#085496" stroke="#4a6a86" stroke-opacity="0.55" stroke-width="0.4" stroke-linejoin="round"/>
<path d="M638.3,338.0L643.3,336.3L647.5,335.5L652.0,334.7L651.7,337.0L647.5,338.7L643.7,340.0L642.5,342.0L645.0,343.0L648.0,342.5L647.5,344.7L644.7,345.8L644.2,347.5L645.8,350.0L647.0,353.7L644.7,354.2L643.0,350.8L642.0,348.7L641.3,351.7L640.8,354.7L638.0,354.7L637.5,350.0L637.0,345.8L637.5,341.7Z" fill="#085496" stroke="#4a6a86" stroke-opacity="0.55" stroke-width="0.4" stroke-linejoin="round"/>
<path d="M656.7,334.2L659.2,333.8L660.3,337.5L659.2,342.0L657.3,340.0L657.7,337.0Z" fill="#085496" stroke="#4a6a86" stroke-opacity="0.55" stroke-width="0.4" stroke-linejoin="round"/>
<path d="M653.3,348.3L656.7,347.5L657.0,348.7L653.7,349.7Z" fill="#085496" stroke="#4a6a86" stroke-opacity="0.55" stroke-width="0.4" stroke-linejoin="round"/>
<path d="M658.3,347.5L662.5,347.0L663.3,348.3L659.2,348.8Z" fill="#085496" stroke="#4a6a86" stroke-opacity="0.55" stroke-width="0.4" stroke-linejoin="round"/>
<path d="M664.7,342.0L668.3,340.8L671.7,341.7L673.3,345.0L676.7,345.8L680.0,344.2L684.2,344.2L687.8,346.7L687.8,363.0L685.0,361.7L681.7,360.8L679.2,361.7L680.0,359.2L676.7,355.8L673.3,352.5L671.7,349.2L670.0,347.5L669.2,345.0L666.7,343.7Z" fill="#085496" stroke="#4a6a86" stroke-opacity="0.55" stroke-width="0.4" stroke-linejoin="round"/>
<path d="M672.0,354.2L673.7,353.7L673.7,357.5L672.2,357.0Z" fill="#085496" stroke="#4a6a86" stroke-opacity="0.55" stroke-width="0.4" stroke-linejoin="round"/>
<path d="M165.8,311.7L169.2,311.3L171.7,313.7L173.7,315.8L173.0,318.3L170.8,317.5L168.7,315.0L166.3,313.7Z" fill="#085496" stroke="#4a6a86" stroke-opacity="0.55" stroke-width="0.4" stroke-linejoin="round"/>
<path d="M173.7,315.8L176.7,316.7L180.0,315.0L183.3,315.3L185.0,318.0L184.2,320.3L182.5,318.3L180.0,317.5L178.3,320.0L175.8,319.2L173.7,318.0Z" fill="#085496" stroke="#4a6a86" stroke-opacity="0.55" stroke-width="0.4" stroke-linejoin="round"/>
<path d="M225.0,318.3L227.5,320.0L229.2,323.3L231.7,325.0L230.0,328.3L230.8,332.5L232.5,334.2L229.2,335.8L226.7,335.8L225.3,331.7L225.0,327.5L222.5,325.0L222.0,322.5Z" fill="#085496" stroke="#4a6a86" stroke-opacity="0.55" stroke-width="0.4" stroke-linejoin="round"/>
<path d="M231.7,325.0L235.8,324.2L238.7,325.0L238.3,329.2L237.5,332.5L234.2,334.2L232.0,334.2L230.3,331.7L230.0,328.3Z" fill="#0868ac" stroke="#4a6a86" stroke-opacity="0.55" stroke-width="0.4" stroke-linejoin="round"/>
<path d="M177.5,339.2L180.0,337.0L184.2,337.0L187.5,340.0L189.5,342.5L187.5,345.8L184.2,347.5L181.7,350.0L180.0,352.5L178.3,351.7L178.7,348.3L176.7,346.7L176.3,342.5Z" fill="#085496" stroke="#4a6a86" stroke-opacity="0.55" stroke-width="0.4" stroke-linejoin="round"/>
<path d="M204.0,386.0L205.6,387.4L207.0,395.0L209.0,401.0L212.0,398.0L217.0,397.4L221.6,398.0L222.4,393.0L226.0,390.6L229.6,391.4L231.0,395.0L235.0,398.0L239.0,400.0L241.0,403.0L241.6,408.0L239.0,412.0L236.0,418.0L239.0,419.4L243.0,421.4L246.0,424.0L246.4,427.0L244.0,430.0L239.0,431.0L237.6,432.0L238.0,433.0L241.0,435.0L239.0,439.0L235.0,441.0L230.0,441.4L229.6,445.0L226.0,447.0L230.0,450.6L227.0,452.0L227.6,456.6L224.0,458.0L226.0,461.0L229.6,463.0L226.4,466.0L224.4,469.0L226.4,472.6L229.6,475.4L233.0,478.0L237.0,482.0L234.0,483.2L229.0,483.0L222.4,481.6L217.6,478.8L213.6,475.2L210.6,470.0L209.0,462.0L211.0,458.0L209.0,454.0L207.0,450.0L206.0,443.0L205.0,437.0L206.0,431.0L205.6,425.0L205.0,415.0L204.4,405.0L203.6,395.0L203.2,389.0Z" fill="#085496" stroke="#4a6a86" stroke-opacity="0.55" stroke-width="0.4" stroke-linejoin="round"/>
<path d="M488.2,275.8L491.4,274.8L494.6,277.9L497.8,281.1L496.1,285.4L493.5,288.5L490.4,292.8L485.1,295.9L481.9,292.8L484.0,288.5L487.2,285.4L487.6,280.1Z" fill="#2b8cbe" stroke="#4a6a86" stroke-opacity="0.55" stroke-width="0.4" stroke-linejoin="round"/>
<path d="M488.4,270.5L489.5,270.5L489.5,272.0L488.4,272.0Z" fill="#2b8cbe" stroke="#4a6a86" stroke-opacity="0.55" stroke-width="0.4" stroke-linejoin="round"/>
<path d="M395.2,222.5L397.5,222.0L400.0,222.2L402.0,222.0L401.8,220.2L403.5,219.4L405.2,220.0L406.5,221.5L408.0,223.2L409.8,223.8L410.0,225.5L411.0,227.0L410.0,228.2L408.8,229.0L407.8,228.2L406.5,227.2L405.5,228.5L404.2,229.0L403.5,230.2L402.0,229.2L400.0,227.5L398.2,225.5L396.5,223.8Z" fill="#084081" stroke="#4a6a86" stroke-opacity="0.55" stroke-width="0.4" stroke-linejoin="round"/>
<path d="M406.2,230.5L407.8,229.8L410.0,229.8L411.5,230.8L411.0,232.2L409.0,233.0L407.0,232.8L406.2,231.8Z" fill="#085496" stroke="#4a6a86" stroke-opacity="0.55" stroke-width="0.4" stroke-linejoin="round"/>
<path d="M409.0,200.5L412.4,199.0L414.3,196.4L416.5,194.7L419.5,195.4L422.1,195.6L423.3,197.9L425.1,199.8L426.6,201.3L424.8,202.4L425.1,203.9L429.6,204.1L431.1,206.1L433.8,208.0L437.5,209.1L440.5,209.9L443.1,211.0L443.5,213.3L441.6,215.1L440.9,217.0L437.5,217.4L435.3,218.9L434.9,220.4L437.5,221.5L437.9,222.6L435.3,223.0L433.8,223.8L432.3,222.6L430.4,221.5L431.5,220.0L429.6,218.9L427.8,218.1L425.9,218.9L425.1,220.8L422.5,221.5L421.4,220.8L421.8,218.5L419.9,215.9L418.0,213.6L416.1,214.4L413.1,214.8L410.1,214.4L407.9,213.3L408.6,211.0L410.5,208.8L410.1,206.1L409.0,203.5Z" fill="#085496" stroke="#4a6a86" stroke-opacity="0.55" stroke-width="0.4" stroke-linejoin="round"/>
<path d="M446.5,226.4L449.5,226.8L452.5,228.3L456.3,229.0L459.3,229.8L460.0,232.0L457.0,232.8L454.0,232.0L451.4,231.3L449.9,229.0L447.6,227.5Z" fill="#085496" stroke="#4a6a86" stroke-opacity="0.55" stroke-width="0.4" stroke-linejoin="round"/>
<path d="M323.3,301.6L325.6,298.8L329.4,296.8L332.2,298.1L335.1,300.5L336.0,303.1L336.8,306.8L334.1,307.3L330.8,306.8L325.2,307.3L323.8,304.9Z" fill="#2b8cbe" stroke="#4a6a86" stroke-opacity="0.55" stroke-width="0.4" stroke-linejoin="round"/>
<path d="M324.5,304.1L331.3,303.9L331.3,305.2L324.5,305.4Z" fill="#0868ac" stroke="#4a6a86" stroke-opacity="0.55" stroke-width="0.4" stroke-linejoin="round"/>
<path d="M325.2,307.3L330.8,306.8L331.3,308.2L328.9,310.1L326.1,309.2Z" fill="#0868ac" stroke="#4a6a86" stroke-opacity="0.55" stroke-width="0.4" stroke-linejoin="round"/>
<path d="M328.9,310.6L331.8,308.2L336.5,307.3L340.2,307.8L343.1,309.2L343.5,312.9L344.7,317.6L342.6,320.5L341.2,317.6L339.3,314.4L337.4,312.9L335.1,313.4L332.7,315.3L330.4,312.9Z" fill="#7bccc4" stroke="#4a6a86" stroke-opacity="0.55" stroke-width="0.4" stroke-linejoin="round"/>
<path d="M332.7,315.8L335.1,313.7L337.4,313.4L338.8,315.8L338.4,319.5L336.5,321.9L334.1,320.0Z" fill="#4eb3d3" stroke="#4a6a86" stroke-opacity="0.55" stroke-width="0.4" stroke-linejoin="round"/>
<path d="M356.2,311.5L362.8,311.1L363.3,315.8L364.0,320.5L364.2,324.2L361.4,326.1L357.6,327.1L356.0,324.2L356.5,317.6Z" fill="#2b8cbe" stroke="#4a6a86" stroke-opacity="0.55" stroke-width="0.4" stroke-linejoin="round"/>
<path d="M363.3,311.5L365.6,312.0L366.1,317.6L366.9,323.3L364.7,324.0L363.9,317.6Z" fill="#4eb3d3" stroke="#4a6a86" stroke-opacity="0.55" stroke-width="0.4" stroke-linejoin="round"/>
<path d="M324.7,284.5L332.7,284.1L333.3,278.3L336.7,275.0L336.7,271.7L344.2,268.3L350.3,272.7L350.3,299.3L336.5,301.2L335.1,300.2L332.2,297.9L329.4,296.5L325.6,298.8L324.2,295.1L325.2,289.4Z" fill="#4eb3d3" stroke="#4a6a86" stroke-opacity="0.55" stroke-width="0.4" stroke-linejoin="round"/>
<path d="M350.3,272.7L372.7,289.4L372.2,295.5L371.3,298.8L367.1,300.2L362.4,301.2L358.6,302.1L353.9,305.9L351.5,308.2L351.1,312.0L348.2,312.9L344.9,312.5L343.5,308.2L340.2,307.3L336.8,306.8L336.0,303.1L336.5,301.2L350.3,299.3Z" fill="#2b8cbe" stroke="#4a6a86" stroke-opacity="0.55" stroke-width="0.4" stroke-linejoin="round"/>
<path d="M457.5,210.0L461.7,206.3L466.7,205.0L472.5,206.7L476.7,207.5L482.5,205.0L481.7,200.8L486.7,199.2L495.0,196.7L499.2,196.7L503.3,199.2L509.2,198.7L513.3,200.8L520.0,206.7L526.7,207.5L533.3,210.0L538.3,210.8L537.5,215.8L533.3,216.7L531.7,221.7L529.2,224.2L531.7,228.3L527.5,227.5L521.7,226.7L516.7,228.3L511.7,229.2L508.3,230.0L505.0,232.0L501.7,229.2L499.2,227.0L495.0,226.7L490.8,225.3L487.5,222.8L483.3,221.2L478.7,222.5L479.2,225.0L480.0,229.2L477.5,230.0L474.2,229.2L470.8,226.7L468.3,224.5L469.2,222.5L472.5,220.8L471.7,218.3L468.3,217.5L463.7,217.8L461.7,215.8L457.8,213.7L457.0,210.8Z" fill="#085496" stroke="#4a6a86" stroke-opacity="0.55" stroke-width="0.4" stroke-linejoin="round"/>
<path d="M474.6,232.5L476.7,233.8L477.9,231.7L478.8,230.0L480.8,230.8L483.3,230.8L485.0,228.8L487.5,229.2L490.8,231.7L493.3,234.2L496.7,236.7L500.0,238.3L503.3,240.0L505.8,241.2L504.2,243.3L501.7,245.0L499.2,247.5L496.7,246.7L494.2,244.2L490.8,242.9L486.7,241.7L482.5,241.7L479.2,242.1L478.8,239.2L476.7,236.7L475.0,234.6Z" fill="#084081" stroke="#4a6a86" stroke-opacity="0.55" stroke-width="0.4" stroke-linejoin="round"/>
<path d="M171.2,282.5L173.3,280.4L176.7,279.3L180.8,279.2L184.2,280.4L187.5,282.5L190.8,284.6L194.2,286.2L195.0,287.5L191.7,287.9L188.3,287.7L186.7,286.2L185.0,284.2L182.5,282.5L179.2,281.2L175.0,281.5L172.5,282.9Z" fill="#084081" stroke="#4a6a86" stroke-opacity="0.55" stroke-width="0.4" stroke-linejoin="round"/>
<path d="M193.8,291.2L196.7,290.4L197.9,288.3L200.0,287.9L200.4,292.5L198.8,292.9L196.7,292.5L194.2,292.5Z" fill="#2b8cbe" stroke="#4a6a86" stroke-opacity="0.55" stroke-width="0.4" stroke-linejoin="round"/>
<path d="M200.0,287.9L203.3,288.2L205.8,289.6L207.5,291.2L205.4,292.1L202.5,292.3L200.8,293.8L200.4,292.5Z" fill="#085496" stroke="#4a6a86" stroke-opacity="0.55" stroke-width="0.4" stroke-linejoin="round"/>
<path d="M160.0,295.0L161.7,292.1L162.9,291.7L162.5,295.0L161.2,297.9L160.0,297.5Z" fill="#0868ac" stroke="#4a6a86" stroke-opacity="0.55" stroke-width="0.4" stroke-linejoin="round"/>
<path d="M159.6,301.2L161.7,299.2L165.8,298.3L170.0,298.2L172.7,300.2L170.8,301.2L167.9,302.5L165.4,304.2L163.3,305.4L161.7,303.3L159.6,302.5Z" fill="#0868ac" stroke="#4a6a86" stroke-opacity="0.55" stroke-width="0.4" stroke-linejoin="round"/>
<path d="M157.1,303.8L159.6,302.5L161.7,303.3L163.2,305.2L160.8,305.0L158.3,304.8Z" fill="#0868ac" stroke="#4a6a86" stroke-opacity="0.55" stroke-width="0.4" stroke-linejoin="round"/>
<path d="M454.2,242.6L458.5,243.0L460.3,245.6L462.6,247.4L463.2,250.3L465.0,253.8L467.9,257.9L469.7,260.9L466.8,263.2L463.2,263.8L460.3,262.1L456.8,259.7L452.6,257.4L449.1,255.0L448.3,253.2L451.5,250.9L452.6,246.8Z" fill="#0868ac" stroke="#4a6a86" stroke-opacity="0.55" stroke-width="0.4" stroke-linejoin="round"/>
<path d="M209.0,401.0L210.0,407.0L208.0,415.0L209.0,423.0L211.0,431.0L211.0,439.0L213.0,447.0L214.4,455.0L216.4,463.0L218.0,469.0L223.0,475.0L225.0,477.4" fill="none" stroke="#8aa5bf" stroke-width="0.4" stroke-linejoin="round"/>
<path d="M221.6,398.0L228.0,403.0L233.0,405.0L234.0,411.0L239.0,412.0" fill="none" stroke="#8aa5bf" stroke-width="0.4" stroke-linejoin="round"/>
<path d="M236.0,418.0L235.0,424.0L237.0,430.0" fill="none" stroke="#8aa5bf" stroke-width="0.4" stroke-linejoin="round"/>
</g>
<!--LEGEND-->
<g id="legend" font-family="Liberation Sans, sans-serif" font-size="12.6" fill="#5b5b5b" text-anchor="middle">
<rect x="98.5" y="537.5" width="48" height="10.5" fill="url(#hatch)" stroke="#bbb" stroke-width="0.8"/>
<line x1="122.5" y1="534" x2="122.5" y2="537.5" stroke="#bbb" stroke-width="0.8"/>
<text x="122.5" y="530" letter-spacing="0.55">No data</text>
<rect x="166.00" y="537.5" width="58.5" height="10.5" fill="#f7fcf0" stroke="#999" stroke-width="0.4"/>
<rect x="224.50" y="537.5" width="58.5" height="10.5" fill="#e0f3db" stroke="#999" stroke-width="0.4"/>
<rect x="283.00" y="537.5" width="58.5" height="10.5" fill="#ccebc5" stroke="#999" stroke-width="0.4"/>
<rect x="341.50" y="537.5" width="58.5" height="10.5" fill="#a8ddb5" stroke="#999" stroke-width="0.4"/>
<rect x="400.00" y="537.5" width="58.5" height="10.5" fill="#7bccc4" stroke="#999" stroke-width="0.4"/>
<rect x="458.50" y="537.5" width="58.5" height="10.5" fill="#4eb3d3" stroke="#999" stroke-width="0.4"/>
<rect x="517.00" y="537.5" width="58.5" height="10.5" fill="#2b8cbe" stroke="#999" stroke-width="0.4"/>
<rect x="575.50" y="537.5" width="58.5" height="10.5" fill="#0868ac" stroke="#999" stroke-width="0.4"/>
<rect x="634.00" y="537.5" width="58.5" height="10.5" fill="#085496" stroke="#999" stroke-width="0.4"/>
<rect x="692.50" y="537.5" width="58.5" height="10.5" fill="#084081" stroke="#999" stroke-width="0.4"/>
<line x1="166.00" y1="533.5" x2="166.00" y2="537.5" stroke="#999" stroke-width="0.5"/>
<text x="166.00" y="530">0%</text>
<line x1="224.50" y1="533.5" x2="224.50" y2="537.5" stroke="#999" stroke-width="0.5"/>
<text x="224.50" y="530">10%</text>
<line x1="283.00" y1="533.5" x2="283.00" y2="537.5" stroke="#999" stroke-width="0.5"/>
<text x="283.00" y="530">20%</text>
<line x1="341.50" y1="533.5" x2="341.50" y2="537.5" stroke="#999" stroke-width="0.5"/>
<text x="341.50" y="530">30%</text>
<line x1="400.00" y1="533.5" x2="400.00" y2="537.5" stroke="#999" stroke-width="0.5"/>
<text x="400.00" y="530">40%</text>
<line x1="458.50" y1="533.5" x2="458.50" y2="537.5" stroke="#999" stroke-width="0.5"/>
<text x="458.50" y="530">50%</text>
<line x1="517.00" y1="533.5" x2="517.00" y2="537.5" stroke="#999" stroke-width="0.5"/>
<text x="517.00" y="530">60%</text>
<line x1="575.50" y1="533.5" x2="575.50" y2="537.5" stroke="#999" stroke-width="0.5"/>
<text x="575.50" y="530">70%</text>
<line x1="634.00" y1="533.5" x2="634.00" y2="537.5" stroke="#999" stroke-width="0.5"/>
<text x="634.00" y="530">80%</text>
<line x1="692.50" y1="533.5" x2="692.50" y2="537.5" stroke="#999" stroke-width="0.5"/>
<text x="692.50" y="530">90%</text>
<line x1="751.00" y1="533.5" x2="751.00" y2="537.5" stroke="#999" stroke-width="0.5"/>
<text x="751.00" y="530">100%</text>
</g>
<!--/LEGEND-->
</svg>
<div id="src"><b id="ds">Data source:</b> <span id="un">UNICEF</span></div>
<div id="url">OurWorldinData.org/global-education | CC BY</div>
</body></html>
